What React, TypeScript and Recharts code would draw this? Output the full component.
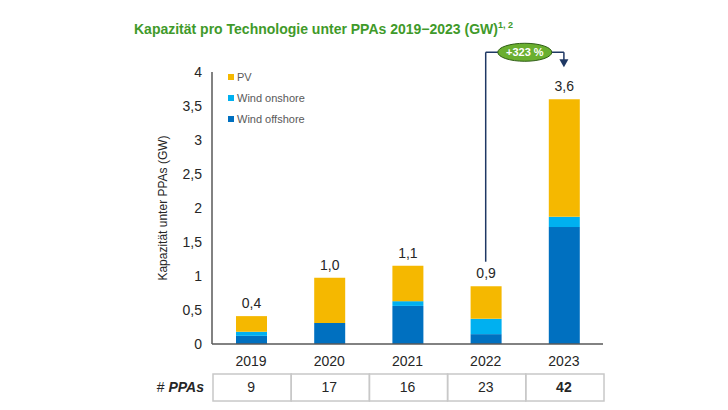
import * as React from 'react';
import {
  BarChart, Bar, XAxis, YAxis, Legend, LabelList, ReferenceLine, ReferenceDot,
} from 'recharts';

const years = ['2019', '2020', '2021', '2022', '2023'];
const windOffshore = [0.12, 0.31, 0.56, 0.145, 1.72];
const windOnshore = [0.06, 0, 0.07, 0.225, 0.15];
const pv = [0.23, 0.665, 0.52, 0.48, 1.73];
const totals = [0.4, 1.0, 1.1, 0.9, 3.6];
const ppaCounts = [9, 17, 16, 23, 42];
const yTicks = [0, 0.5, 1, 1.5, 2, 2.5, 3, 3.5, 4];
const legendOrder = ['PV', 'Wind onshore', 'Wind offshore'];

const growthLabel = '+323 %';
const fromYear = '2022';
const toYear = '2023';

const COLORS = { pv: '#F5B800', onshore: '#00B0F0', offshore: '#0070C0' };
const FONT = '"Liberation Sans", Arial, sans-serif';
const NAVY = '#1F3864';

const data = years.map((year, i) => ({
  year,
  offshore: windOffshore[i],
  onshore: windOnshore[i],
  pv: pv[i],
  total: totals[i],
  ppas: ppaCounts[i],
}));

const fmt = (v: number) => String(v).replace('.', ',');

function YearTick(props: any) {
  const { x, y, payload, index, width } = props;
  const cellW = width / years.length;
  return (
    <g>
      <text x={x} y={y + 22} textAnchor="middle" fontSize={14} fill="#262626" fontFamily={FONT}>
        {payload.value}
      </text>
      <rect x={x - cellW / 2 + 1} y={y + 30} width={cellW} height={27} fill="none" stroke="#C8C8C8" strokeWidth={1.5} />
      <text
        x={x}
        y={y + 48}
        textAnchor="middle"
        fontSize={14}
        fill="#262626"
        fontFamily={FONT}
        fontWeight={index === years.length - 1 ? 'bold' : 'normal'}
      >
        {ppaCounts[index]}
      </text>
    </g>
  );
}

function LegendBox(props: any) {
  const items = [...(props.payload || [])].sort(
    (a: any, b: any) => legendOrder.indexOf(a.value) - legendOrder.indexOf(b.value),
  );
  return (
    <div style={{ fontFamily: FONT, fontSize: 11, color: '#595959' }}>
      {items.map((it: any) => (
        <div key={it.value} style={{ display: 'flex', alignItems: 'center', height: 21 }}>
          <span style={{ width: 6, height: 6, background: it.color, marginRight: 3, display: 'inline-block' }} />
          {it.value}
        </div>
      ))}
    </div>
  );
}

function GrowthPill(props: any) {
  const vb = props.viewBox || {};
  const cx = vb.x + vb.width / 2;
  const cy = vb.y;
  return (
    <g>
      <ellipse cx={cx} cy={cy} rx={27} ry={9} fill="#6AAF2F" stroke="#2E5E14" strokeWidth={1} />
      <text x={cx} y={cy + 4} textAnchor="middle" fontSize={11} fontWeight="bold" fill="#fff" fontFamily={FONT}>
        {growthLabel}
      </text>
    </g>
  );
}

export default function App() {
  return (
    <div style={{ position: 'absolute', left: 0, top: 0, width: 728, height: 410, background: '#fff' }}>
      <div
        style={{
          position: 'absolute', left: 134, top: 17, fontFamily: FONT, fontSize: 14, fontWeight: 'bold',
          color: '#3F9A2A', whiteSpace: 'nowrap', lineHeight: '16px',
        }}
      >
        Kapazität pro Technologie unter PPAs 2019−2023 (GW)<sup style={{ fontSize: 9 }}>1, 2</sup>
      </div>
      <BarChart
        width={728}
        height={410}
        data={data}
        margin={{ top: 72, right: 125, bottom: 0, left: 150 }}
        barSize={31}
      >
        <XAxis
          dataKey="year"
          height={66}
          tickLine={false}
          tickSize={0}
          tickMargin={0}
          axisLine={{ stroke: '#595959', strokeWidth: 1.5 }}
          tick={<YearTick />}
          interval={0}
          label={{
            content: (p: any) => {
              const vb = p.viewBox;
              return (
                <text x={vb.x - 8} y={vb.y + 48} textAnchor="end" fontSize={14} fill="#262626" fontFamily={FONT}>
                  #{' '}
                  <tspan fontWeight="bold" fontStyle="italic">PPAs</tspan>
                </text>
              );
            },
          }}
        />
        <YAxis
          width={62}
          domain={[0, 4]}
          ticks={yTicks}
          tickFormatter={fmt}
          tickLine={false}
          tickSize={0}
          tickMargin={10}
          axisLine={{ stroke: '#595959', strokeWidth: 1.5 }}
          tick={{ fontSize: 14, fill: '#262626', fontFamily: FONT }}
          label={{
            content: (p: any) => {
              const vb = p.viewBox;
              const x = vb.x + 13;
              const y = vb.y + vb.height / 2;
              return (
                <text
                  x={x}
                  y={y}
                  transform={`rotate(-90 ${x} ${y})`}
                  textAnchor="middle"
                  dominantBaseline="central"
                  fontSize={12}
                  fill="#262626"
                  fontFamily={FONT}
                >
                  Kapazität unter PPAs (GW)
                </text>
              );
            },
          }}
        />
        <Legend
          verticalAlign="middle"
          align="center"
          layout="vertical"
          content={<LegendBox />}
          wrapperStyle={{ left: 228, top: 66, width: 120 }}
        />
        <Bar dataKey="offshore" name="Wind offshore" stackId="a" fill={COLORS.offshore} isAnimationActive={false} />
        <Bar dataKey="onshore" name="Wind onshore" stackId="a" fill={COLORS.onshore} isAnimationActive={false} />
        <Bar dataKey="pv" name="PV" stackId="a" fill={COLORS.pv} isAnimationActive={false}>
          <LabelList
            dataKey="total"
            position="top"
            offset={8}
            formatter={(v: any) => Number(v).toFixed(1).replace('.', ',')}
            style={{ fontSize: 14, fill: '#262626', fontFamily: FONT }}
          />
        </Bar>
        <ReferenceLine
          segment={[{ x: fromYear, y: 1.21 }, { x: fromYear, y: 4.29 }]}
          stroke={NAVY}
          strokeWidth={1.5}
          ifOverflow="visible"
        />
        <ReferenceLine
          segment={[{ x: fromYear, y: 4.29 }, { x: toYear, y: 4.29 }]}
          stroke={NAVY}
          strokeWidth={1.5}
          ifOverflow="visible"
          label={<GrowthPill />}
        />
        <ReferenceLine
          segment={[{ x: toYear, y: 4.29 }, { x: toYear, y: 4.15 }]}
          stroke={NAVY}
          strokeWidth={1.5}
          ifOverflow="visible"
        />
        <ReferenceDot
          x={toYear}
          y={4.07}
          ifOverflow="visible"
          shape={(p: any) => (
            <path d={`M${p.cx - 4.5},${p.cy - 8}L${p.cx + 4.5},${p.cy - 8}L${p.cx},${p.cy}Z`} fill={NAVY} />
          )}
        />
      </BarChart>
    </div>
  );
}
